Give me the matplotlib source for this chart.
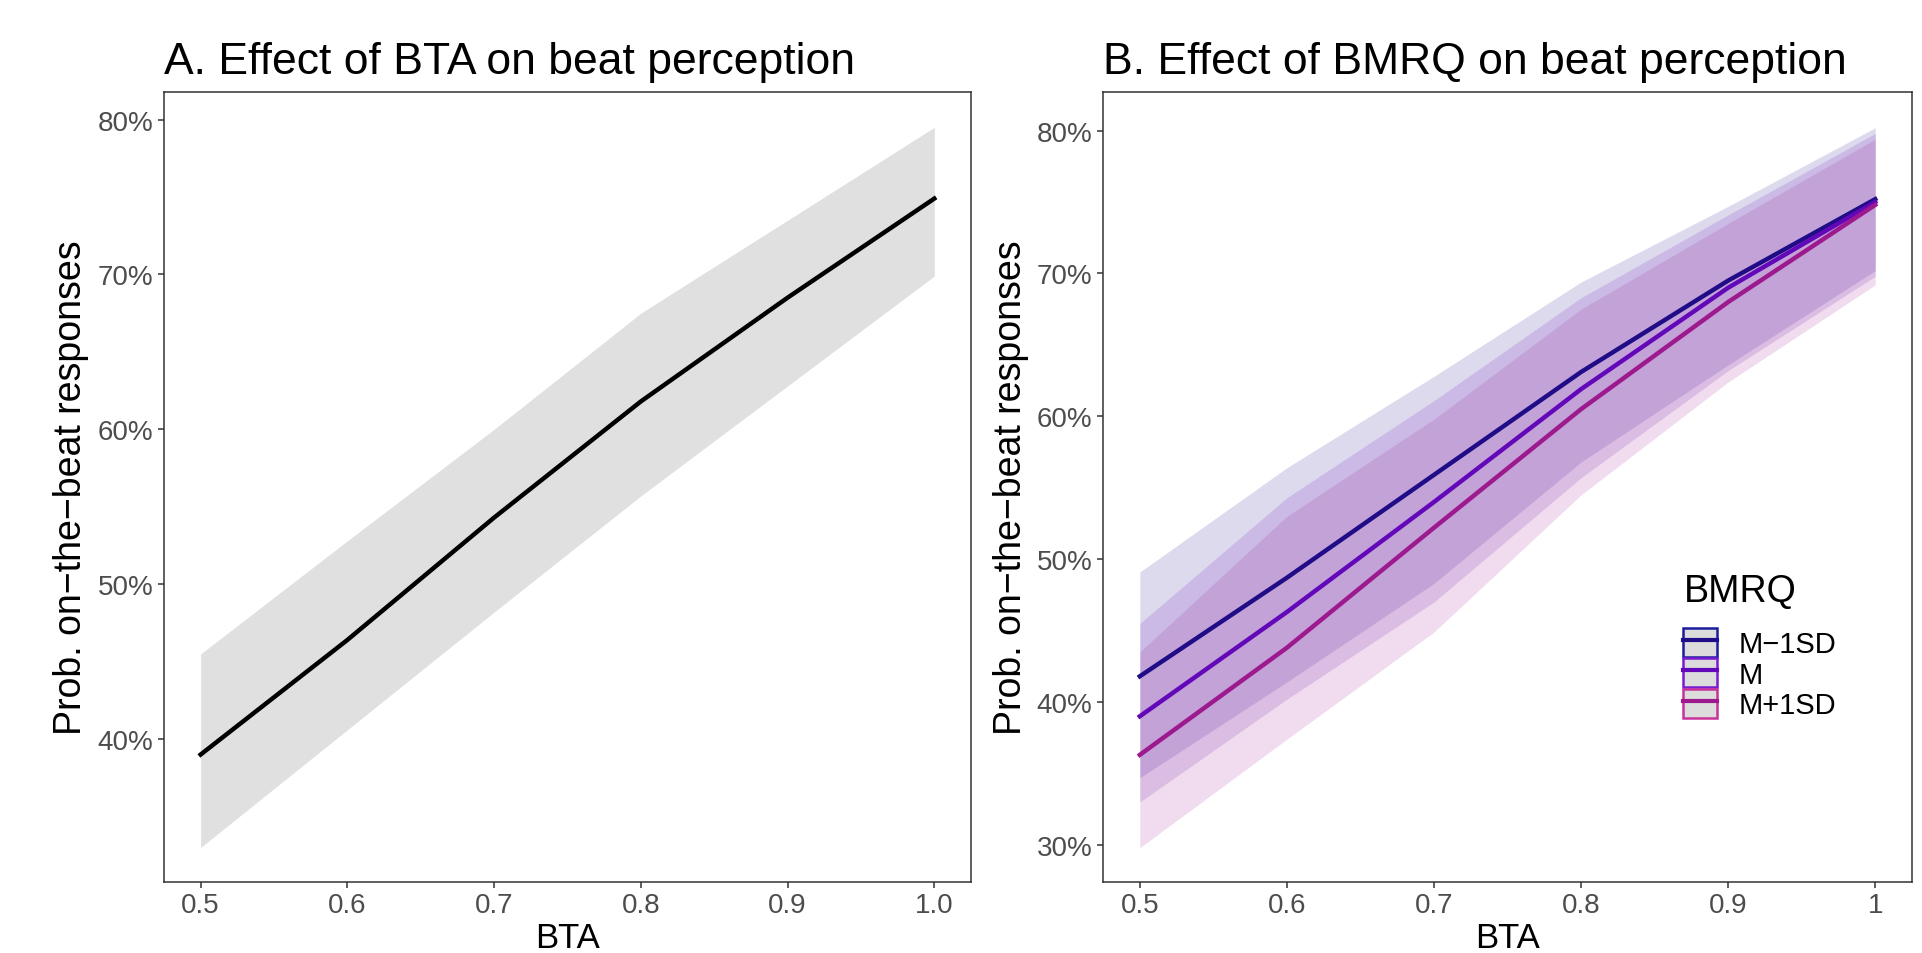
import matplotlib.pyplot as plt
from matplotlib.patches import Patch
from matplotlib.lines import Line2D
from matplotlib.legend_handler import HandlerTuple

plt.rcParams['font.family'] = ['Liberation Sans', 'DejaVu Sans']

# BTA values (x)
bta = [0.5, 0.6, 0.7, 0.8, 0.9, 1.0]

# Panel A: predicted probability (%) and confidence band
a_fit = [39.0, 46.4, 54.3, 61.8, 68.5, 74.9]
a_low = [33.0, 40.6, 48.2, 55.7, 62.8, 69.9]
a_high = [45.5, 52.8, 60.0, 67.5, 73.5, 79.5]

# Panel B: by BMRQ level
bmrq_levels = ['M\u22121SD', 'M', 'M+1SD']
b_fit_m1 = [41.8, 48.7, 55.9, 63.1, 69.5, 75.2]
b_fit_m = [39.0, 46.3, 54.0, 61.9, 69.0, 75.0]
b_fit_p1 = [36.3, 43.8, 52.2, 60.5, 68.0, 74.8]
b_low_m1 = [34.7, 41.4, 48.3, 56.8, 63.6, 70.2]
b_low_m = [33.0, 40.2, 47.0, 55.7, 63.2, 69.8]
b_low_p1 = [29.8, 37.4, 44.9, 54.5, 62.4, 69.2]
b_high_m1 = [49.1, 56.4, 62.8, 69.4, 74.7, 80.2]
b_high_m = [45.5, 54.3, 61.1, 68.3, 74.1, 79.8]
b_high_p1 = [43.5, 53.0, 59.8, 67.5, 73.5, 79.4]

a_yticks = [40, 50, 60, 70, 80]
b_yticks = [30, 40, 50, 60, 70, 80]
a_xlabels = ['0.5', '0.6', '0.7', '0.8', '0.9', '1.0']
b_xlabels = ['0.5', '0.6', '0.7', '0.8', '0.9', '1']

colors = ['#200c87', '#6208b8', '#9c1a8e']
edge_colors = ['#1c1c9c', '#7a1ad0', '#c8329a']

fig = plt.figure(figsize=(19.22, 9.54), dpi=100)
axA = fig.add_axes([0.0853, 0.0744, 0.4199, 0.8281])
axB = fig.add_axes([0.5739, 0.0744, 0.4209, 0.8281])


def style(ax, title, yticks, xlabels):
    for s in ax.spines.values():
        s.set_color('#333333')
        s.set_linewidth(1.1)
    ax.set_xticks(bta)
    ax.set_xticklabels(xlabels)
    ax.set_yticks(yticks)
    ax.set_yticklabels([f'{v}%' for v in yticks])
    ax.tick_params(axis='both', length=4.5, width=1.1, color='#333333',
                   labelcolor='#4d4d4d', labelsize=20, pad=3)
    ax.set_xlim(0.475, 1.025)
    ax.set_title(title, loc='left', fontsize=32, pad=14)
    ax.set_xlabel('BTA', fontsize=25, labelpad=2)
    ax.set_ylabel('Prob. on\u2212the\u2212beat responses', fontsize=27, labelpad=6)


# Panel A
axA.fill_between(bta, a_low, a_high, color='#e0e0e0', lw=0)
axA.plot(bta, a_fit, color='black', lw=3.2)
style(axA, 'A. Effect of BTA on beat perception', a_yticks, a_xlabels)
axA.set_ylim(30.77, 81.78)

# Panel B
lows = [b_low_m1, b_low_m, b_low_p1]
highs = [b_high_m1, b_high_m, b_high_p1]
fits = [b_fit_m1, b_fit_m, b_fit_p1]
for lo, hi, c in zip(lows, highs, colors):
    axB.fill_between(bta, lo, hi, color=c, alpha=0.15, lw=0)
for f, c in zip(fits, colors):
    axB.plot(bta, f, color=c, lw=3.2)
style(axB, 'B. Effect of BMRQ on beat perception', b_yticks, b_xlabels)
axB.set_ylim(27.4, 82.7)

handles = []
for c, ec in zip(colors, edge_colors):
    handles.append((Patch(facecolor='#dcdcdc', edgecolor=ec, lw=1.8),
                    Line2D([0], [0], color=c, lw=3)))
leg = axB.legend(handles, bmrq_levels, title='BMRQ', loc='upper left',
                 bbox_to_anchor=(0.685, 0.425), frameon=False, fontsize=21,
                 title_fontsize=27, handlelength=1.15, handleheight=1.15,
                 labelspacing=0.0, handletextpad=0.75,
                 handler_map={tuple: HandlerTuple(ndivide=1, pad=0)})
leg._legend_box.align = 'left'
leg._legend_box.sep = 14

fig.savefig('out.png', dpi=100)
